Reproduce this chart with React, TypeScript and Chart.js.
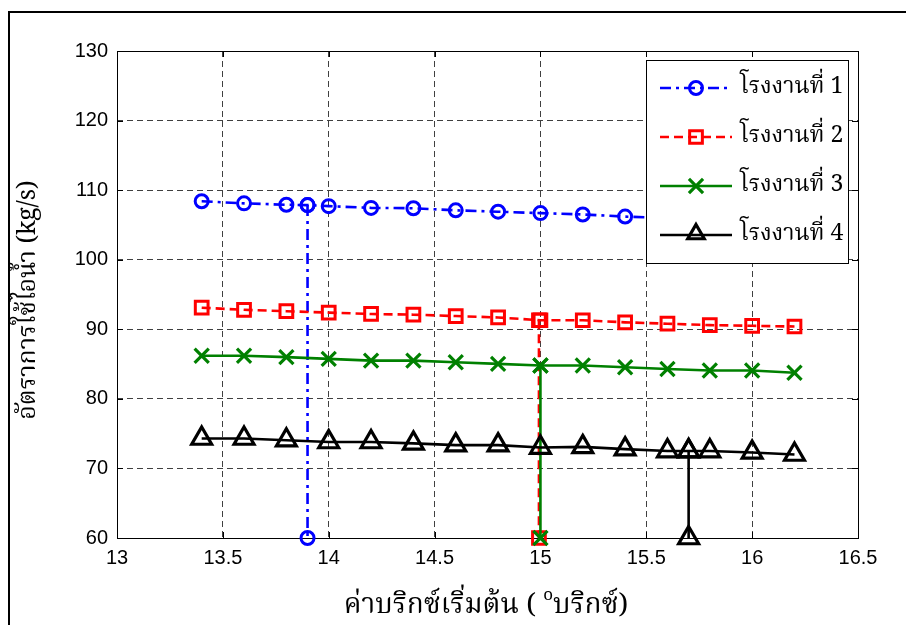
import React, { useEffect, useRef } from "react";
import { Chart, registerables } from "chart.js";

Chart.register(...registerables);

// ---------- data ----------
const plant1X = [13.4, 13.6, 13.8, 13.9, 14.0, 14.2, 14.4, 14.6, 14.8, 15.0, 15.2, 15.4, 15.6, 15.8, 16.0, 16.2];
const plant1Y = [108.4, 108.1, 107.9, 107.85, 107.7, 107.45, 107.4, 107.1, 106.9, 106.7, 106.5, 106.2, 106.0, 105.8, 105.6, 105.4];

const plant2X = [13.4, 13.6, 13.8, 14.0, 14.2, 14.4, 14.6, 14.8, 15.0, 15.2, 15.4, 15.6, 15.8, 16.0, 16.2];
const plant2Y = [93.1, 92.8, 92.6, 92.4, 92.2, 92.1, 91.9, 91.7, 91.3, 91.3, 91.0, 90.8, 90.6, 90.5, 90.4];

const plant3X = [13.4, 13.6, 13.8, 14.0, 14.2, 14.4, 14.6, 14.8, 15.0, 15.2, 15.4, 15.6, 15.8, 16.0, 16.2];
const plant3Y = [86.2, 86.2, 86.0, 85.75, 85.5, 85.5, 85.27, 85.03, 84.8, 84.8, 84.55, 84.3, 84.08, 84.08, 83.75];

const plant4X = [13.4, 13.6, 13.8, 14.0, 14.2, 14.4, 14.6, 14.8, 15.0, 15.2, 15.4, 15.6, 15.7, 15.8, 16.0, 16.2];
const plant4Y = [74.3, 74.3, 74.06, 73.8, 73.8, 73.6, 73.35, 73.35, 73.0, 73.1, 72.78, 72.5, 72.5, 72.5, 72.3, 72.0];

// vertical drop lines (selected operating point of each plant)
const drop1X = [13.9, 13.9];
const drop1Y = [107.85, 60];
const drop2X = [14.993, 14.993];
const drop2Y = [91.3, 60];
const drop3X = [15.0, 15.0];
const drop3Y = [84.8, 60];
const drop4X = [15.7, 15.7];
const drop4Y = [72.5, 60];

const legendLabels = ["โรงงานที่ 1", "โรงงานที่ 2", "โรงงานที่ 3", "โรงงานที่ 4"];
const xTitleMain = "ค่าบริกซ์เริ่มต้น (";
const xTitleSup = "o";
const xTitleEnd = "บริกซ์)";
const yTitle = "อัตราการใช้ไอน้ำ (kg/s)";

const xMin = 13, xMax = 16.5, xStep = 0.5;
const yMin = 60, yMax = 130, yStep = 10;

// ---------- styles ----------
const BLUE = "#0000ff";
const RED = "#ff0000";
const GREEN = "#008000";
const BLACK = "#000000";
const THAI_FONT = "'Noto Serif Thai', 'Noto Sans Thai', 'Liberation Serif', 'DejaVu Serif', serif";
const TICK_FONT = "'Liberation Sans', Arial, sans-serif";

const zip = (xs: number[], ys: number[]) => xs.map((x, i) => ({ x, y: ys[i] }));

type Sty = { color: string; dash: number[]; point: string; radius: number; pw: number };
const styles: Sty[] = [
  { color: BLUE, dash: [11, 5, 3, 5], point: "circle", radius: 6.5, pw: 3 },
  { color: RED, dash: [9, 5], point: "rect", radius: 9, pw: 3 },
  { color: GREEN, dash: [], point: "crossRot", radius: 10, pw: 3.2 },
  { color: BLACK, dash: [], point: "triangle", radius: 11.5, pw: 3.2 },
];

function mkDataset(data: { x: number; y: number }[], s: Sty, order: number) {
  return {
    data,
    borderColor: s.color,
    backgroundColor: s.color,
    borderWidth: 2.6,
    borderDash: s.dash,
    pointStyle: s.point,
    pointRadius: s.radius,
    pointHoverRadius: s.radius,
    pointBorderWidth: s.pw,
    pointBorderColor: s.color,
    pointBackgroundColor: "rgba(0,0,0,0)",
    tension: 0,
    fill: false,
    clip: false as any,
    order,
  };
}

function drawMarker(ctx: CanvasRenderingContext2D, style: string, x: number, y: number, r: number) {
  ctx.beginPath();
  if (style === "circle") {
    ctx.arc(x, y, r, 0, Math.PI * 2);
  } else if (style === "rect") {
    const s = r * Math.SQRT1_2;
    ctx.rect(x - s, y - s, 2 * s, 2 * s);
  } else if (style === "crossRot") {
    const s = r * Math.SQRT1_2;
    ctx.moveTo(x - s, y - s);
    ctx.lineTo(x + s, y + s);
    ctx.moveTo(x - s, y + s);
    ctx.lineTo(x + s, y - s);
  } else if (style === "triangle") {
    ctx.moveTo(x, y - r);
    ctx.lineTo(x + Math.sin(2 * Math.PI / 3) * r, y + r * 0.5);
    ctx.lineTo(x - Math.sin(2 * Math.PI / 3) * r, y + r * 0.5);
    ctx.closePath();
  }
  ctx.stroke();
}

const framePlugin = {
  id: "matlabFrame",
  beforeDatasetsDraw(chart: any) {
    const { ctx, chartArea: a, scales } = chart;
    ctx.save();
    ctx.strokeStyle = BLACK;
    ctx.lineWidth = 1;
    ctx.setLineDash([]);
    ctx.strokeRect(Math.round(a.left) + 0.5, Math.round(a.top) + 0.5, Math.round(a.right - a.left), Math.round(a.bottom - a.top));
    const tl = 6;
    ctx.beginPath();
    for (const t of scales.x.ticks) {
      const px = Math.round(scales.x.getPixelForValue(t.value)) + 0.5;
      ctx.moveTo(px, a.bottom);
      ctx.lineTo(px, a.bottom - tl);
      ctx.moveTo(px, a.top);
      ctx.lineTo(px, a.top + tl);
    }
    for (const t of scales.y.ticks) {
      const py = Math.round(scales.y.getPixelForValue(t.value)) + 0.5;
      ctx.moveTo(a.left, py);
      ctx.lineTo(a.left + tl, py);
      ctx.moveTo(a.right, py);
      ctx.lineTo(a.right - tl, py);
    }
    ctx.stroke();
    ctx.restore();
  },
  afterDraw(chart: any) {
    const { ctx } = chart;
    ctx.save();
    // legend
    const lx = 646, ly = 60, lw = 202, lh = 203;
    ctx.setLineDash([]);
    ctx.fillStyle = "#ffffff";
    ctx.fillRect(lx, ly, lw, lh);
    ctx.strokeStyle = BLACK;
    ctx.lineWidth = 1;
    ctx.strokeRect(lx + 0.5, ly + 0.5, lw, lh);
    const rows = [88, 137, 186, 235];
    rows.forEach((ry, i) => {
      const s = styles[i];
      ctx.strokeStyle = s.color;
      ctx.lineWidth = 2.6;
      ctx.setLineDash(s.dash);
      ctx.beginPath();
      ctx.moveTo(660, ry);
      ctx.lineTo(732, ry);
      ctx.stroke();
      ctx.setLineDash([]);
      ctx.lineWidth = s.pw;
      drawMarker(ctx, s.point, 696, s.point === "triangle" ? ry - 1 : ry, s.point === "triangle" ? 9.5 : s.radius);
      ctx.fillStyle = BLACK;
      ctx.font = `23px ${THAI_FONT}`;
      ctx.textAlign = "left";
      ctx.textBaseline = "middle";
      ctx.fillText(legendLabels[i], 740, ry + 1);
    });

    // x axis title
    ctx.fillStyle = BLACK;
    ctx.textBaseline = "alphabetic";
    ctx.textAlign = "left";
    const f = 28;
    ctx.font = `${f}px ${THAI_FONT}`;
    const w1 = ctx.measureText(xTitleMain + " ").width;
    const w3 = ctx.measureText(xTitleEnd).width;
    ctx.font = `${Math.round(f * 0.6)}px ${THAI_FONT}`;
    const w2 = ctx.measureText(xTitleSup).width;
    const total = w1 + w2 + w3;
    let x0 = 486 - total / 2;
    const base = 613;
    ctx.font = `${f}px ${THAI_FONT}`;
    ctx.fillText(xTitleMain + " ", x0, base);
    x0 += w1;
    ctx.font = `${Math.round(f * 0.6)}px ${THAI_FONT}`;
    ctx.fillText(xTitleSup, x0, base - 13);
    x0 += w2;
    ctx.font = `${f}px ${THAI_FONT}`;
    ctx.fillText(xTitleEnd, x0, base);

    // y axis title
    ctx.translate(31, 300);
    ctx.rotate(-Math.PI / 2);
    ctx.textAlign = "center";
    ctx.textBaseline = "middle";
    ctx.font = `25px ${THAI_FONT}`;
    ctx.fillText(yTitle, 0, 0);
    ctx.setTransform(1, 0, 0, 1, 0, 0);

    // outer figure frame
    ctx.strokeStyle = BLACK;
    ctx.lineWidth = 2;
    ctx.beginPath();
    ctx.moveTo(9, 625);
    ctx.lineTo(9, 12);
    ctx.lineTo(906, 12);
    ctx.stroke();
    ctx.restore();
  },
};

export default function App() {
  const canvasRef = useRef<HTMLCanvasElement | null>(null);

  useEffect(() => {
    const canvas = canvasRef.current;
    if (!canvas) return;
    const chart = new Chart(canvas, {
      type: "line",
      data: {
        datasets: [
          mkDataset(zip(plant1X, plant1Y), styles[0], 4),
          mkDataset(zip(drop1X, drop1Y), styles[0], 4),
          mkDataset(zip(plant2X, plant2Y), styles[1], 3),
          mkDataset(zip(drop2X, drop2Y), styles[1], 3),
          mkDataset(zip(plant3X, plant3Y), styles[2], 2),
          mkDataset(zip(drop3X, drop3Y), styles[2], 2),
          mkDataset(zip(plant4X, plant4Y), styles[3], 1),
          mkDataset(zip(drop4X, drop4Y), styles[3], 1),
        ] as any,
      },
      options: {
        animation: false,
        responsive: false,
        devicePixelRatio: 1,
        layout: { padding: { left: 0, top: 51, right: 48, bottom: 0 } },
        plugins: { legend: { display: false }, tooltip: { enabled: false } },
        events: [],
        scales: {
          x: {
            type: "linear",
            min: xMin,
            max: xMax,
            afterFit: (s: any) => { s.height = 87; },
            ticks: {
              stepSize: xStep,
              color: BLACK,
              font: { family: TICK_FONT, size: 20 },
              padding: 8,
              maxRotation: 0,
              autoSkip: false,
              callback: (v: any) => String(Math.round(Number(v) * 10) / 10),
            },
            grid: { color: "rgba(0,0,0,0.75)", lineWidth: 1, drawTicks: false },
            border: { display: false, dash: [6, 4] },
          },
          y: {
            type: "linear",
            min: yMin,
            max: yMax,
            afterFit: (s: any) => { s.width = 117; },
            ticks: {
              stepSize: yStep,
              color: BLACK,
              font: { family: TICK_FONT, size: 20 },
              padding: 9,
              autoSkip: false,
            },
            grid: { color: "rgba(0,0,0,0.75)", lineWidth: 1, drawTicks: false },
            border: { display: false, dash: [6, 4] },
          },
        },
      },
      plugins: [framePlugin],
    } as any);
    return () => chart.destroy();
  }, []);

  return (
    <div style={{ position: "absolute", left: 0, top: 0, width: 906, height: 625, background: "#fff" }}>
      <canvas ref={canvasRef} width={906} height={625} style={{ display: "block" }} />
    </div>
  );
}
